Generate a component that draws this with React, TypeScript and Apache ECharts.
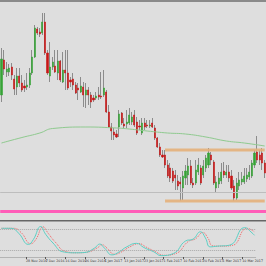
import React, { useEffect, useRef } from "react";
import * as echarts from "echarts";

// Prices in chart units
const openP = [126,161,149,149,154,142,134,145,138,135,134,136,148,164,192,189,188,199,168,145,154,155,148,160,139,151,148,141,142,136,133,129,134,126,131,126,123,123,126,125,126,129,109,94,89,87,94,108,97,97,98,99,106,99,95,88,98,96,95,98,93,83,74,66,66,56,53,50,46,40,39,33,43,46,55,38,38,49,53,46,53,56,66,59,33,37,40,50,46,49,45,35,23,35,39,39,42,44,45,56,69,66,68,58];
const closeP = [162,152,152,153,146,132,145,138,131,133,136,148,164,193,188,187,199,168,148,154,159,149,160,141,151,148,133,139,136,128,131,135,126,131,126,119,121,125,124,124,133,109,94,90,86,84,107,98,95,99,106,104,96,88,94,98,94,95,96,94,83,74,66,64,56,45,43,40,43,35,37,45,50,55,38,36,51,56,38,55,63,68,61,38,39,43,49,46,49,43,33,23,38,41,42,45,46,49,58,68,61,61,58,48];
const highP = [173,171,159,157,158,146,153,153,146,141,148,153,171,196,194,193,208,208,171,179,164,171,171,161,169,171,171,144,148,139,138,144,139,138,134,129,126,129,134,149,151,131,116,98,93,91,111,109,103,111,113,109,111,104,101,103,103,101,101,103,96,84,78,71,71,61,58,53,51,46,44,50,56,63,61,43,61,63,56,61,66,73,69,61,45,49,58,59,56,56,51,41,43,49,49,53,53,56,61,71,85,71,73,61];
const lowP = [119,146,144,145,141,126,126,134,129,129,131,133,146,163,186,184,186,166,146,139,151,148,141,139,138,131,131,134,131,127,121,128,114,113,116,113,119,121,121,122,124,108,93,81,81,83,84,96,93,93,96,96,94,86,91,86,91,93,93,93,81,73,64,63,53,43,39,38,31,31,20,21,36,36,36,33,36,46,36,43,49,53,56,36,29,33,37,43,43,39,31,20,21,31,36,37,39,41,43,53,58,56,51,43];

// Moving average (candle index, value)
const maIdx = [0,8,15,20,33,45,50,57,65,72,80,88,95,103];
const maVal = [78,83.5,88,92.5,94,93,92,90,88,87,84,80,78,75];

// Horizontal levels
const boxTop = 71;
const boxBottom = 20;
const boxStart = 64;
const pinkLevel = 10;
const grayLevel = 29;

// Stochastic
const kIdx = [0,4,7,11,13,16,18,21,25,30,34,38,40,42,45,48,51,55,58,62,65,70,75,78,81,83,85,88,93,99,102,103];
const kVal = [82,82,68,36,50,87,65,40,15,12,13,26,37,25,6,15,29,39,27,15,4,10,46,51,72,55,29,31,34,84,69,62];
const dIdx = [0,5,8,12,14,17,19,22,26,31,35,39,41,43,46,49,52,56,59,63,66,71,76,79,82,84,86,89,94,100,103];
const dVal = [82,82,70,38,50,86,68,42,16,12,14,26,35,25,8,15,28,38,28,14,5,10,44,52,70,55,32,31,33,82,72];

// Date ticks
const tickIndex = [2,10,18,26,34,42,50,58,66,74,82,90,98];
const tickLabels = ["18 Nov 2016","28 Nov 2016","7 Dec 2016","16 Dec 2016","26 Dec 2016","5 Jan 2017","13 Jan 2017","23 Jan 2017","1 Feb 2017","10 Feb 2017","20 Feb 2017","1 Mar 2017","10 Mar 2017"];

export default function App() {
  const ref = useRef<HTMLDivElement>(null);
  useEffect(() => {
    if (!ref.current) return;
    const chart = echarts.init(ref.current, undefined, { renderer: "svg" });
    const cats = openP.map((_, i) => String(i));
    const labelMap: Record<number, string> = {};
    tickIndex.forEach((t, k) => (labelMap[t] = tickLabels[k]));
    const isTick = (i: number) => labelMap[i] !== undefined;
    const wickData = openP.map((o, i) => [o, closeP[i], lowP[i], highP[i]]);
    const bodyData = openP.map((o, i) => [o, closeP[i], Math.min(o, closeP[i]), Math.max(o, closeP[i])]);
    const last = openP.length - 1;
    chart.setOption({
      animation: false,
      backgroundColor: "#dedede",
      grid: [
        { left: 0.2, top: 2, width: 270, height: 219 },
        { left: 0.2, top: 222, width: 270, height: 35 },
      ],
      xAxis: [
        { type: "category", gridIndex: 0, data: cats, axisLine: { show: false }, axisTick: { show: false }, axisLabel: { show: false }, splitLine: { show: false } },
        {
          type: "category", gridIndex: 1, data: cats,
          axisLine: { show: true, lineStyle: { color: "#b4b4b4", width: 1 } },
          axisTick: { show: true, alignWithLabel: true, interval: (i: number) => isTick(i), length: 2, lineStyle: { color: "#555" } },
          axisLabel: { interval: (i: number) => isTick(i), formatter: (_v: string, i: number) => labelMap[i] || "", fontSize: 3.3, color: "#333", align: "left", margin: 2, fontFamily: "DejaVu Sans" },
          splitLine: { show: false },
        },
      ],
      yAxis: [
        { type: "value", gridIndex: 0, min: 0, max: 219, show: false },
        { type: "value", gridIndex: 1, min: 0, max: 100, show: false },
      ],
      series: [
        {
          type: "line", xAxisIndex: 0, yAxisIndex: 0, data: [], symbol: "none",
          markLine: {
            silent: true, symbol: "none", label: { show: false },
            data: [
              { yAxis: pinkLevel, lineStyle: { color: "#ff5cb8", width: 3, type: "solid" } },
              { yAxis: grayLevel, lineStyle: { color: "#bdbdbd", width: 1, type: "solid" } },
            ],
          },
        },
        {
          type: "line", xAxisIndex: 0, yAxisIndex: 0, symbol: "none",
          data: [[boxStart, boxTop], [last, boxTop]],
          lineStyle: { color: "#e4b07a", width: 3, opacity: 0.9 },
        },
        {
          type: "line", xAxisIndex: 0, yAxisIndex: 0, symbol: "none",
          data: [[boxStart, boxBottom], [last, boxBottom]],
          lineStyle: { color: "#e4b07a", width: 3, opacity: 0.9 },
        },
        {
          type: "line", xAxisIndex: 0, yAxisIndex: 0, symbol: "none", smooth: true,
          data: maIdx.map((i, k) => [i, maVal[k]]),
          lineStyle: { color: "#8fca8f", width: 1 },
        },
        {
          type: "candlestick", xAxisIndex: 0, yAxisIndex: 0, data: wickData, barWidth: 0.8,
          itemStyle: { color: "#8c8c8c", color0: "#8c8c8c", borderColor: "#8c8c8c", borderColor0: "#8c8c8c", borderWidth: 1 },
        },
        {
          type: "candlestick", xAxisIndex: 0, yAxisIndex: 0, data: bodyData, barWidth: 1.6,
          itemStyle: { color: "#36a336", color0: "#c81616", borderColor: "#36a336", borderColor0: "#c81616", borderWidth: 0.6 },
        },
        {
          type: "line", xAxisIndex: 1, yAxisIndex: 1, symbol: "none", smooth: true,
          data: dIdx.map((i, k) => [i, dVal[k]]),
          lineStyle: { color: "#f06464", width: 1, type: "dotted" },
          markLine: {
            silent: true, symbol: "none", label: { show: false },
            lineStyle: { color: "#a8a8a8", width: 1, type: "dotted" },
            data: [{ yAxis: 80 }, { yAxis: 20 }],
          },
        },
        {
          type: "line", xAxisIndex: 1, yAxisIndex: 1, symbol: "none", smooth: true,
          data: kIdx.map((i, k) => [i, kVal[k]]),
          lineStyle: { color: "#5ccfc4", width: 1 },
        },
      ],
      graphic: [
        { type: "rect", left: 0, top: 0, shape: { width: 266, height: 2 }, style: { fill: "#8a8a8a" }, silent: true },
        { type: "rect", left: 0, top: 220, shape: { width: 266, height: 1.5 }, style: { fill: "#666666" }, silent: true },
      ],
    });
    return () => chart.dispose();
  }, []);
  return <div ref={ref} style={{ position: "fixed", left: 0, top: 0, width: 266, height: 266 }} />;
}
